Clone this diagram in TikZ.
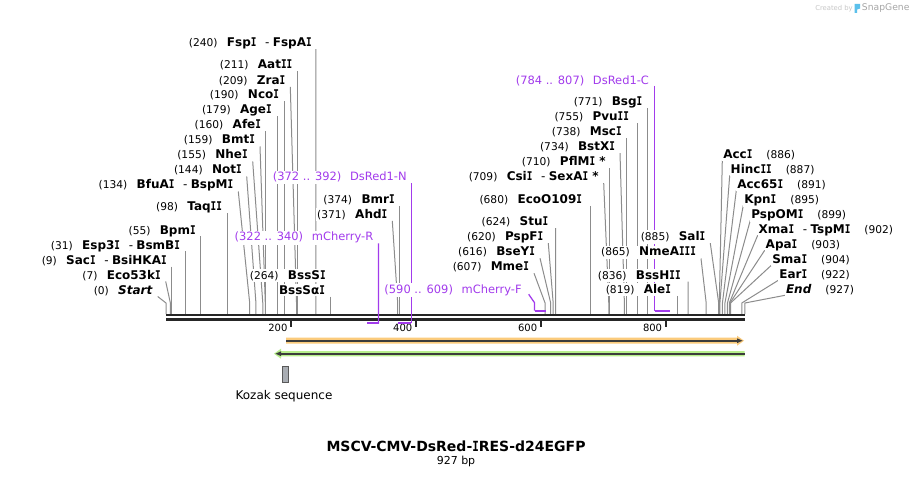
\documentclass[tikz,border=0pt]{standalone}
\usepackage{graphicx}
\usepackage{fontspec}
\setmainfont{DejaVu Sans}
\newfontfamily\monofam{DejaVu Sans Mono}
\definecolor{barc}{HTML}{262626}
\definecolor{cutc}{HTML}{8C8C8C}
\definecolor{primc}{HTML}{A23BEC}
\definecolor{orf}{HTML}{FBCB7C}
\definecolor{grf}{HTML}{B7EF8C}
\definecolor{darkl}{HTML}{3C3C3C}
\definecolor{kozf}{HTML}{A9ADB3}
\definecolor{logoc}{HTML}{5BC0EB}
\pgfdeclarelayer{bg}\pgfdeclarelayer{lines}\pgfdeclarelayer{mid}
\pgfsetlayers{bg,lines,mid,main}
\newcommand\I{\mbox{\monofam\bfseries\scalebox{0.78}[1]{I}}}
\newcommand\nm[1]{{\fontsize{8pt}{9pt}\selectfont(#1)}}
\newcommand\en[1]{\textbf{#1}}
\newcommand\dsh{\hspace{6.5pt}-\hspace{2.5pt}}
\newcommand\gp{\hspace{7pt}}
\newcommand\gr{\hspace{10.5pt}}
\newcommand\gpp{\hspace{6.5pt}}
\tikzset{
  lab/.style={inner xsep=0.75pt,inner ysep=1.1pt,outer sep=0pt,fill=white,font=\fontsize{9pt}{11pt}\selectfont},
  plab/.style={inner xsep=0.75pt,inner ysep=1.1pt,outer sep=0pt,fill=white,text=primc,font=\fontsize{8.6pt}{10pt}\selectfont},
  ticklab/.style={inner sep=0pt,outer sep=0pt,font=\fontsize{7.5pt}{9pt}\selectfont},
  cut/.style={draw=cutc,line width=0.75pt},
  pline/.style={draw=primc,line width=0.95pt},
  pbar/.style={draw=primc,line width=1.6pt},
  barline/.style={draw=barc,line width=1.75pt},
  tickline/.style={draw=barc,line width=1.5pt}
}
\newcommand\enzL[5]{%
  \node[lab,anchor=base east] (#1) at (#2+1,#3) {#4};
  \pgfmathsetmacro\xq{166+0.6245*#5}
  \pgfmathsetmacro\dx{abs(\xq-#2-5)<4 ? \xq-#2-1 : 4}
  \coordinate (#1m) at (\xq,303);
  \coordinate (#1b) at (\xq,314);
  \begin{pgfonlayer}{lines}
  \draw[cut] ([shift={(\dx,2.5)}]#1.base east) -- (#1m) -- (#1b);
  \end{pgfonlayer}}
\newcommand\enzR[5]{%
  \node[lab,anchor=base west] (#1) at (#2-1,#3) {#4};
  \pgfmathsetmacro\xq{166+0.6245*#5}
  \coordinate (#1m) at (\xq,303);
  \coordinate (#1b) at (\xq,314);
  \begin{pgfonlayer}{lines}
  \draw[cut] ([shift={(0,2)}]#1.base west) -- (#1m) -- (#1b);
  \end{pgfonlayer}}
\begin{document}
\begin{tikzpicture}[x=0.75pt,y=-0.75pt]
\useasboundingbox (0,0) rectangle (913,477);
\begin{pgfonlayer}{bg}
\fill[white] (0,0) rectangle (913,477);
\end{pgfonlayer}

% created by
\node[inner sep=0pt,anchor=base west,text=black!22,font=\fontsize{5.1pt}{6pt}\selectfont] (cb) at (815,11) {Created by};
\fill[logoc] (854.5,4) -- (860,4) -- (860,8.5) -- (857.2,9.5) -- (857.2,13) -- (854.5,13) -- cycle;
\node[inner sep=0pt,anchor=base west,text=black!35,font=\fontsize{6.9pt}{8pt}\selectfont] (sg) at (861.7,11) {SnapGene};

% left-side enzymes
\enzL{fsp}{311.7}{46.7}{\nm{240}\gp\en{Fsp\I}\dsh\en{FspA\I}}{240}
\enzL{aat}{292.3}{69}{\nm{211}\gp\en{Aat\I\I}}{211}
\enzL{zra}{285.3}{84.3}{\nm{209}\gp\en{Zra\I}}{209}
\enzL{nco}{279}{99}{\nm{190}\gp\en{Nco\I}}{190}
\enzL{age}{271.7}{114}{\nm{179}\gp\en{Age\I}}{179}
\enzL{afe}{261}{129}{\nm{160}\gp\en{Afe\I}}{160}
\enzL{bmt}{255}{144}{\nm{159}\gp\en{Bmt\I}}{159}
\enzL{nhe}{247.7}{159}{\nm{155}\gp\en{Nhe\I}}{155}
\enzL{noti}{241.7}{174}{\nm{144}\gp\en{Not\I}}{144}
\enzL{bfu}{233.3}{189}{\nm{134}\gp\en{BfuA\I}\dsh\en{BspM\I}}{134}
\enzL{taq}{222}{210.7}{\nm{98}\gp\en{Taq\I\I}}{98}
\enzL{bpm}{195.7}{234}{\nm{55}\gp\en{Bpm\I}}{55}
\enzL{esp}{180}{249}{\nm{31}\gp\en{Esp3\I}\dsh\en{BsmB\I}}{31}
\enzL{sac}{166.7}{264}{\nm{9}\gp\en{Sac\I}\dsh\en{BsiHKA\I}}{9}
\enzL{ecok}{160.7}{279}{\nm{7}\gp\en{Eco53k\I}}{7}
\enzL{start}{152.7}{294}{\nm{0}\gp\en{\itshape Start}}{0}
\node[lab,anchor=base east] (bsssi) at (326.7,279) {\nm{264}\gp\en{BssS\I}};
\enzL{bsssa}{325}{294}{\en{BssSα\I}}{264}
\enzL{bmr}{394.7}{203.3}{\nm{374}\gp\en{Bmr\I}}{374}
\enzL{ahd}{387.3}{218.3}{\nm{371}\gp\en{Ahd\I}}{371}
\enzL{bsg}{642.3}{105.7}{\nm{771}\gp\en{Bsg\I}}{771}
\enzL{pvu}{629}{120.7}{\nm{755}\gp\en{Pvu\I\I}}{755}
\enzL{msc}{621.7}{135.7}{\nm{738}\gp\en{Msc\I}}{738}
\enzL{bstx}{615}{150.7}{\nm{734}\gp\en{BstX\I}}{734}
\enzL{pfl}{605.7}{165.7}{\nm{710}\gp\en{PflM\I\ *}}{710}
\enzL{csi}{598.7}{180.7}{\nm{709}\gp\en{Csi\I}\dsh\en{SexA\I\ *}}{709}
\enzL{ecoo}{582}{203.3}{\nm{680}\gp\en{EcoO109\I}}{680}
\enzL{stu}{548.3}{225.7}{\nm{624}\gp\en{Stu\I}}{624}
\enzL{pspf}{543.3}{240.7}{\nm{620}\gp\en{PspF\I}}{620}
\enzL{bsey}{535}{255.7}{\nm{616}\gp\en{BseY\I}}{616}
\enzL{mme}{529}{270.7}{\nm{607}\gp\en{Mme\I}}{607}
\enzL{sal}{705.3}{240.7}{\nm{885}\gp\en{Sal\I}}{885}
\enzL{nme}{696}{256}{\nm{865}\gp\en{NmeA\I\I\I}}{865}
\enzL{bsh}{680.7}{279}{\nm{836}\gp\en{BssH\I\I}}{836}
\enzL{ale}{671}{293.3}{\nm{819}\gp\en{Ale\I}}{819}

% right-side enzymes
\enzR{acc}{723.3}{158.3}{\en{Acc\I}\gr\nm{886}}{886}
\enzR{hinc}{730.7}{173.3}{\en{Hinc\I\I}\gr\nm{887}}{887}
\enzR{accsf}{737.3}{188.3}{\en{Acc65\I}\gr\nm{891}}{891}
\enzR{kpn}{744.3}{203.3}{\en{Kpn\I}\gr\nm{895}}{895}
\enzR{pspo}{751.3}{218.3}{\en{PspOM\I}\gr\nm{899}}{899}
\enzR{xma}{758.7}{233.3}{\en{Xma\I}\dsh\en{TspM\I}\gr\nm{902}}{902}
\enzR{apa}{765.7}{248.3}{\en{Apa\I}\gr\nm{903}}{903}
\enzR{sma}{772.3}{263.3}{\en{Sma\I}\gr\nm{904}}{904}
\enzR{ear}{779.3}{278.3}{\en{Ear\I}\gr\nm{922}}{922}
\enzR{ende}{786}{293.3}{\en{\itshape End}\gr\nm{927}}{927}

% sequence bar and ruler
\begin{pgfonlayer}{mid}
\coordinate (bs1) at (166,315.1); \coordinate (be1) at (745,315.1);
\coordinate (bs2) at (166,319.5); \coordinate (be2) at (745,319.5);
\draw[barline] (bs1) -- (be1);
\draw[barline] (bs2) -- (be2);
\foreach \t in {200,400,600,800}{
  \pgfmathsetmacro\tx{166+0.6245*\t}
  \draw[tickline] (\tx,320.5) -- (\tx,327.3);
  \node[ticklab,anchor=base east] (t\t) at (\tx-3.5,331.7) {\t};
}
\end{pgfonlayer}

% primers
\node[plab,anchor=base east] (pN) at (407.7,180.7) {(372 .. 392)\gpp DsRed1-N};
\node[plab,anchor=base east] (pR) at (374.3,240.7) {(322 .. 340)\gpp mCherry-R};
\node[plab,anchor=base east] (pF) at (522.7,293.3) {(590 .. 609)\gpp mCherry-F};
\node[plab,anchor=base east] (pC) at (650,84.3) {(784 .. 807)\gpp DsRed1-C};
\begin{pgfonlayer}{mid}
\coordinate (pNb) at (411.3,323.3);
\draw[pline] ([shift={(3.6,2.6)}]pN.base east) -- (pNb);
\draw[pbar] (398.3,323.3) -- (pNb);
\coordinate (pRb) at (378.5,323.3);
\draw[pline] ([shift={(4.2,2.6)}]pR.base east) -- (pRb);
\draw[pbar] (367.1,323.3) -- (pRb);
\coordinate (pFm) at (534.5,302.7);
\coordinate (pFb) at (534.5,310.7);
\draw[pline] ([shift={(6,1)}]pF.base east) -- (pFm) -- (pFb);
\draw[pbar] (pFb) -- (546.3,310.7);
\coordinate (pCb) at (654.8,310.7);
\draw[pline] ([shift={(4.8,1.7)}]pC.base east) -- (pCb);
\draw[pbar] (pCb) -- (669.8,310.7);
\end{pgfonlayer}

% features
\fill[orf] (286,337.7) -- (737,337.7) -- (737,335.7) -- (744,340.7) -- (737,345.7) -- (737,343.7) -- (286,343.7) -- cycle;
\draw[darkl,line width=1.2pt] (286,340.7) -- (738,340.7);
\fill[darkl] (737,338.3) -- (742.5,340.7) -- (737,343.1) -- cycle;

\fill[grf] (744.5,351) -- (281,351) -- (281,348.7) -- (274,353.7) -- (281,358.7) -- (281,356.4) -- (744.5,356.4) -- cycle;
\draw[darkl,line width=1.2pt] (744.5,353.7) -- (280,353.7);
\fill[darkl] (281,351.3) -- (275.5,353.7) -- (281,356.1) -- cycle;

\draw[fill=kozf,draw=black!65,line width=0.6pt] (282.5,366.5) rectangle (288.7,382.4);
\node[inner sep=0pt,font=\fontsize{9pt}{11pt}\selectfont,anchor=base] (koz) at (284,399.3) {Kozak sequence};

% title
\node[inner sep=0pt,anchor=base,font=\fontsize{10.5pt}{12pt}\selectfont\bfseries] (title) at (456,451) {MSCV-CMV-DsRed-\I RES-d24EGFP};
\node[inner sep=0pt,anchor=base,font=\fontsize{8.25pt}{10pt}\selectfont] (bp) at (456,464.3) {927 bp};
\end{tikzpicture}
\end{document}
